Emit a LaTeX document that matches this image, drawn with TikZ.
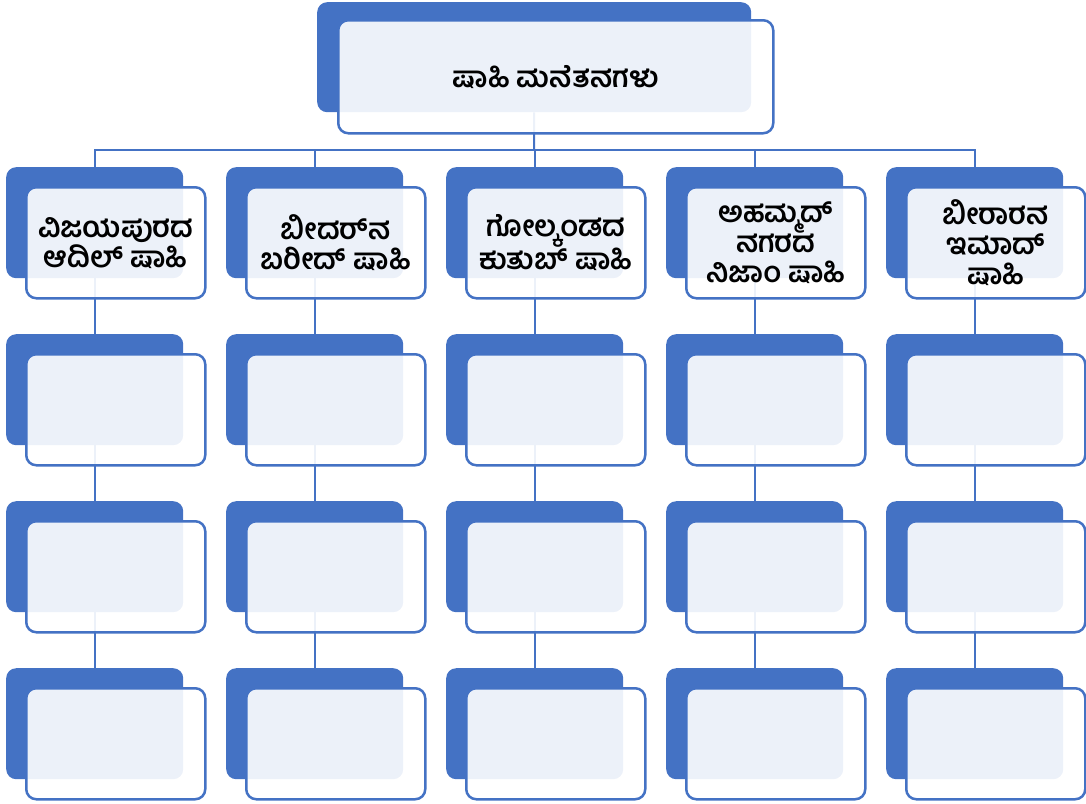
\documentclass[tikz,border=0pt]{standalone}
\usepackage{fontspec}
\newfontfamily\kanfont[Script=Kannada]{Hind Mysuru}
\usetikzlibrary{positioning,backgrounds}
\definecolor{shblue}{HTML}{4472C4}

\begin{document}
\begin{tikzpicture}[x=1pt,y=-1pt,
    backbox/.style={fill=shblue, rounded corners=10pt, minimum width=177pt, minimum height=111pt, anchor=north west, inner sep=0pt},
    frontbox/.style={draw=shblue, line width=2.5pt, fill=white, fill opacity=0.9, text opacity=1, rounded corners=10pt,
      minimum width=179pt, minimum height=111pt, anchor=north west, inner sep=0pt, align=center,
      font=\kanfont\bfseries\fontsize{29}{30}\selectfont},
    link/.style={draw=shblue, line width=2pt}]
  \useasboundingbox (0,0) rectangle (1086,803);

  % Top box
  \node[backbox, minimum width=434pt, minimum height=110pt] (top-back) at (317,2) {};
  \node[frontbox, minimum width=435pt, minimum height=113pt] (top-front) at (337,19) {ಷಾಹಿ ಮನೆತನಗಳು};

  % First row with names
  \node[backbox] (back-1-1) at (6,167) {};
  \node[frontbox] (front-1-1) at (25,186) {ವಿಜಯಪುರದ\\ಆದಿಲ್ ಷಾಹಿ};
  \node[backbox] (back-2-1) at (226,167) {};
  \node[frontbox] (front-2-1) at (245,186) {ಬೀದರ್‌ನ\\ಬರೀದ್ ಷಾಹಿ};
  \node[backbox] (back-3-1) at (446,167) {};
  \node[frontbox] (front-3-1) at (465,186) {ಗೋಲ್ಕಂಡದ\\ಕುತುಬ್ ಷಾಹಿ};
  \node[backbox] (back-4-1) at (666,167) {};
  \node[frontbox] (front-4-1) at (685,186) {ಅಹಮ್ಮದ್\\ನಗರದ\\ನಿಜಾಂ ಷಾಹಿ};
  \node[backbox] (back-5-1) at (886,167) {};
  \node[frontbox] (front-5-1) at (905,186) {ಬೀರಾರನ\\ಇಮಾದ್\\ಷಾಹಿ};

  % Empty rows
  \foreach \c/\x in {1/6,2/226,3/446,4/666,5/886}
    \foreach \r/\y in {2/334,3/501,4/668} {
      \node[backbox] (back-\c-\r) at (\x,\y) {};
      \node[frontbox] (front-\c-\r) at (\x+19,\y+19) {};
    }

  % Connectors
  \begin{scope}[on background layer]
    \coordinate (hub) at (534,150);
    \draw[link] (top-back.south) -- (hub);
    \foreach \c in {1,...,5} {
      \draw[link] (hub) -| (back-\c-1.north);
      \draw[link] (back-\c-1.south) -- (back-\c-2.north);
      \draw[link] (back-\c-2.south) -- (back-\c-3.north);
      \draw[link] (back-\c-3.south) -- (back-\c-4.north);
    }
  \end{scope}
\end{tikzpicture}
\end{document}
